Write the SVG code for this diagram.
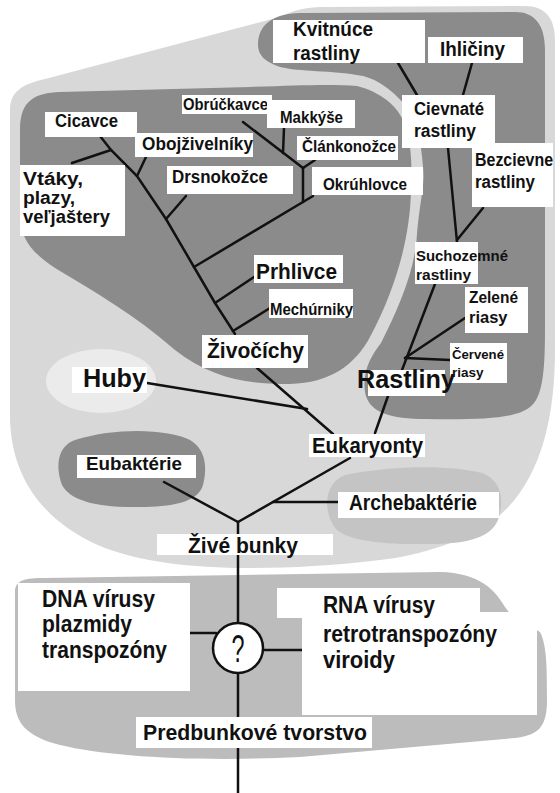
<svg xmlns="http://www.w3.org/2000/svg" width="560" height="793" viewBox="0 0 560 793">
<style>
.t{font-family:"Liberation Sans",Arial,Helvetica,sans-serif;font-weight:bold;fill:#111}
.b{fill:#fff}
#connectors line,#connectors polyline{stroke:#111;stroke-width:2.5;fill:none;stroke-linecap:round}
.dark{fill:#8b8b8b}
</style>
<rect width="560" height="793" fill="#fff"/>
<!-- background regions -->
<path d="M10,110 C10,92 22,84 45,79 L280,17 C290,12 300,8 320,7 L525,6 C545,6 555,18 555,40 L555,350 C555,420 540,480 500,515 C470,540 420,556 380,560 C330,566 290,568 250,568 C190,568 140,562 100,546 C45,522 12,480 10,420 Z" fill="#d8d8d8"/>
<path class="dark" d="M258,45 C258,25 272,14 300,13 L515,12 C535,12 545,25 545,50 L545,330 C545,375 542,398 530,407 C515,419 480,420 420,419 C385,418 368,410 365,392 C362,370 372,355 381,343 C400,305 415,270 417,234 C420,200 425,185 423,167 C421,140 417,120 405,105 C390,88 378,80 363,76 C330,70 300,72 280,67 C265,62 258,55 258,45 Z"/>
<path class="dark" d="M20,130 C20,100 35,93 60,92 L250,87 C300,85 335,84 357,86 C380,92 398,105 405,125 C412,145 412,170 411,190 C410,240 395,290 370,337 C355,365 330,383 290,384 C250,385 210,378 175,350 C135,315 95,292 55,268 C32,253 20,238 20,215 Z"/>
<ellipse cx="101" cy="381" rx="55" ry="32" fill="#ebebeb"/>
<path class="dark" d="M75,440 C120,426 170,430 190,440 C207,450 207,470 203,485 C198,503 170,507 140,507 C95,508 70,500 62,485 C55,465 58,446 75,440 Z"/>
<path d="M345,475 C400,464 455,466 482,473 C505,482 503,505 498,520 C490,540 460,544 430,544 C380,545 345,540 335,528 C322,510 325,482 345,475 Z" fill="#c4c4c4"/>
<path d="M15,592 C15,580 25,578 45,578 L440,572 C480,573 495,590 505,607 C515,622 530,625 540,632 C547,645 547,670 547,700 C547,728 538,735 515,738 L300,757 C200,762 110,757 60,745 C25,736 15,722 15,700 Z" fill="#bcbcbc"/>

<g id="connectors">
<polyline points="100,136 111,150 137,176 166,219 194,267 215,303 235,334"/>
<line x1="72" y1="163" x2="111" y2="150"/>
<line x1="137" y1="176" x2="146" y2="157"/>
<line x1="166" y1="219" x2="186" y2="196"/>
<line x1="194" y1="267" x2="313" y2="196"/>
<line x1="303" y1="202" x2="303" y2="168"/>
<line x1="303" y1="168" x2="243" y2="122"/>
<line x1="283" y1="153" x2="284" y2="128"/>
<line x1="303" y1="168" x2="315" y2="160"/>
<line x1="215" y1="303" x2="254" y2="277"/>
<line x1="233" y1="331" x2="270" y2="308"/>
<line x1="257" y1="368" x2="333" y2="434"/>
<line x1="147" y1="383" x2="307" y2="409"/>
<line x1="388" y1="396" x2="375" y2="433"/>
<line x1="398" y1="63" x2="417" y2="95"/>
<line x1="472" y1="63" x2="463" y2="95"/>
<line x1="448" y1="148" x2="457" y2="242"/>
<line x1="457" y1="240" x2="483" y2="208"/>
<line x1="435" y1="284" x2="402" y2="370"/>
<line x1="405" y1="358" x2="465" y2="318"/>
<line x1="405" y1="358" x2="450" y2="360"/>
<line x1="350" y1="458" x2="238" y2="522"/>
<line x1="273" y1="502" x2="338" y2="502"/>
<line x1="164" y1="482" x2="238" y2="522"/>
<line x1="238" y1="522" x2="238" y2="535"/>
<line x1="238" y1="555" x2="238" y2="623"/>
<line x1="238" y1="673" x2="238" y2="717"/>
<line x1="238" y1="748" x2="238" y2="793"/>
<line x1="190" y1="633" x2="216" y2="633"/>
<line x1="263" y1="650" x2="302" y2="650"/>
</g>

<g id="kvitnuce"><rect class="b" x="273" y="20" width="152" height="43"/>
<text class="t" font-size="19.5" x="293" y="36" textLength="80" lengthAdjust="spacingAndGlyphs">Kvitnúce</text>
<text class="t" font-size="19.5" x="293" y="60" textLength="67" lengthAdjust="spacingAndGlyphs">rastliny</text></g>
<g id="ihliciny"><rect class="b" x="428" y="37" width="95" height="26"/>
<text class="t" font-size="21" x="440" y="56" textLength="65" lengthAdjust="spacingAndGlyphs">Ihličiny</text></g>
<g id="cievnate"><rect class="b" x="402" y="95" width="93" height="53"/>
<text class="t" font-size="18" x="414" y="115" textLength="70" lengthAdjust="spacingAndGlyphs">Cievnaté</text>
<text class="t" font-size="18" x="414" y="137" textLength="62" lengthAdjust="spacingAndGlyphs">rastliny</text></g>
<g id="bezcievne"><rect class="b" x="472" y="143" width="81" height="64"/>
<text class="t" font-size="17.5" x="475" y="166" textLength="78" lengthAdjust="spacingAndGlyphs">Bezcievne</text>
<text class="t" font-size="17.5" x="475" y="188" textLength="60" lengthAdjust="spacingAndGlyphs">rastliny</text></g>
<g id="suchozemne"><rect class="b" x="415" y="242" width="63" height="42"/>
<text class="t" font-size="15.5" x="416" y="261" textLength="92" lengthAdjust="spacingAndGlyphs">Suchozemné</text>
<text class="t" font-size="15.5" x="416" y="280">rastliny</text></g>
<g id="zelene"><rect class="b" x="465" y="287" width="63" height="46"/>
<text class="t" font-size="16.5" x="469" y="303" textLength="49" lengthAdjust="spacingAndGlyphs">Zelené</text>
<text class="t" font-size="16.5" x="469" y="323">riasy</text></g>
<g id="cervene"><rect class="b" x="450" y="343" width="57" height="40"/>
<text class="t" font-size="13.5" x="452" y="359" textLength="52" lengthAdjust="spacingAndGlyphs">Červené</text>
<text class="t" font-size="13.5" x="452" y="377">riasy</text></g>
<g id="rastliny"><rect class="b" x="368" y="370" width="77" height="26"/>
<text class="t" font-size="25" x="357" y="388" textLength="98" lengthAdjust="spacingAndGlyphs">Rastliny</text></g>

<g id="obruckavce"><rect class="b" x="182" y="95" width="90" height="19"/>
<text class="t" font-size="16.5" x="183" y="110" textLength="85" lengthAdjust="spacingAndGlyphs">Obrúčkavce</text></g>
<g id="makkyse"><rect class="b" x="267" y="100" width="88" height="28"/>
<text class="t" font-size="16.5" x="280" y="123" textLength="63" lengthAdjust="spacingAndGlyphs">Makkýše</text></g>
<g id="clankonozce"><rect class="b" x="297" y="136" width="101" height="24"/>
<text class="t" font-size="17" x="302" y="152" textLength="94" lengthAdjust="spacingAndGlyphs">Článkonožce</text></g>
<g id="okruhlovce"><rect class="b" x="312" y="167" width="111" height="28"/>
<text class="t" font-size="17" x="323" y="190" textLength="84" lengthAdjust="spacingAndGlyphs">Okrúhlovce</text></g>
<g id="cicavce"><rect class="b" x="45" y="112" width="92" height="25"/>
<text class="t" font-size="17.5" x="55" y="127" textLength="63" lengthAdjust="spacingAndGlyphs">Cicavce</text></g>
<g id="obojzivelniky"><rect class="b" x="135" y="133" width="118" height="24"/>
<text class="t" font-size="18" x="142" y="150" textLength="111" lengthAdjust="spacingAndGlyphs">Obojživelníky</text></g>
<g id="drsnokozce"><rect class="b" x="167" y="166" width="126" height="28"/>
<text class="t" font-size="18" x="172" y="183" textLength="96" lengthAdjust="spacingAndGlyphs">Drsnokožce</text></g>
<g id="vtaky"><rect class="b" x="20" y="165" width="105" height="71"/>
<text class="t" font-size="18" x="23" y="185" textLength="60" lengthAdjust="spacingAndGlyphs">Vtáky,</text>
<text class="t" font-size="18" x="23" y="204" textLength="52" lengthAdjust="spacingAndGlyphs">plazy,</text>
<text class="t" font-size="18" x="23" y="223" textLength="87" lengthAdjust="spacingAndGlyphs">veľjaštery</text></g>
<g id="prhlivce"><rect class="b" x="254" y="255" width="89" height="28"/>
<text class="t" font-size="22.5" x="256" y="279" textLength="81" lengthAdjust="spacingAndGlyphs">Prhlivce</text></g>
<g id="mechurniky"><rect class="b" x="269" y="289" width="84" height="29"/>
<text class="t" font-size="16.5" x="270" y="315" textLength="83" lengthAdjust="spacingAndGlyphs">Mechúrniky</text></g>
<g id="zivocichy"><rect class="b" x="202" y="335" width="106" height="33"/>
<text class="t" font-size="22" x="207" y="358" textLength="97" lengthAdjust="spacingAndGlyphs">Živočíchy</text></g>
<g id="huby"><rect class="b" x="72" y="367" width="75" height="26"/>
<text class="t" font-size="25" x="83" y="387" textLength="63" lengthAdjust="spacingAndGlyphs">Huby</text></g>

<g id="eukaryonty"><rect class="b" x="309" y="434" width="116" height="23"/>
<text class="t" font-size="22.5" x="312" y="453" textLength="111" lengthAdjust="spacingAndGlyphs">Eukaryonty</text></g>
<g id="eubakterie"><rect class="b" x="77" y="455" width="119" height="23"/>
<text class="t" font-size="19" x="86" y="470" textLength="96" lengthAdjust="spacingAndGlyphs">Eubaktérie</text></g>
<g id="archebakterie"><rect class="b" x="338" y="492" width="161" height="26"/>
<text class="t" font-size="21.5" x="349" y="510" textLength="128" lengthAdjust="spacingAndGlyphs">Archebaktérie</text></g>
<g id="zive-bunky"><rect class="b" x="157" y="534" width="176" height="21"/>
<text class="t" font-size="22.5" x="188" y="553" textLength="110" lengthAdjust="spacingAndGlyphs">Živé bunky</text></g>

<g id="dna"><rect class="b" x="18" y="583" width="172" height="108"/>
<text class="t" font-size="23" x="42" y="607" textLength="113" lengthAdjust="spacingAndGlyphs">DNA vírusy</text>
<text class="t" font-size="23" x="42" y="632" textLength="90" lengthAdjust="spacingAndGlyphs">plazmidy</text>
<text class="t" font-size="23" x="42" y="658" textLength="125" lengthAdjust="spacingAndGlyphs">transpozóny</text></g>
<g id="otaznik"><circle cx="238" cy="648" r="25" fill="#fff" stroke="#111" stroke-width="2.5"/>
<text x="231.5" y="662" font-family="Liberation Sans,Arial,sans-serif" font-size="38" fill="#111" textLength="13" lengthAdjust="spacingAndGlyphs">?</text></g>
<g id="rna"><path class="b" d="M277,588 H480 V612 H537 V715 H302 V618 H277 Z"/>
<text class="t" font-size="23" x="323" y="613" textLength="112" lengthAdjust="spacingAndGlyphs">RNA vírusy</text>
<text class="t" font-size="23" x="323" y="642" textLength="174" lengthAdjust="spacingAndGlyphs">retrotranspozóny</text>
<text class="t" font-size="23" x="323" y="668" textLength="72" lengthAdjust="spacingAndGlyphs">viroidy</text></g>
<g id="predbunkove"><rect class="b" x="136" y="717" width="236" height="31"/>
<text class="t" font-size="22.5" x="143" y="740" textLength="224" lengthAdjust="spacingAndGlyphs">Predbunkové tvorstvo</text></g>
</svg>
